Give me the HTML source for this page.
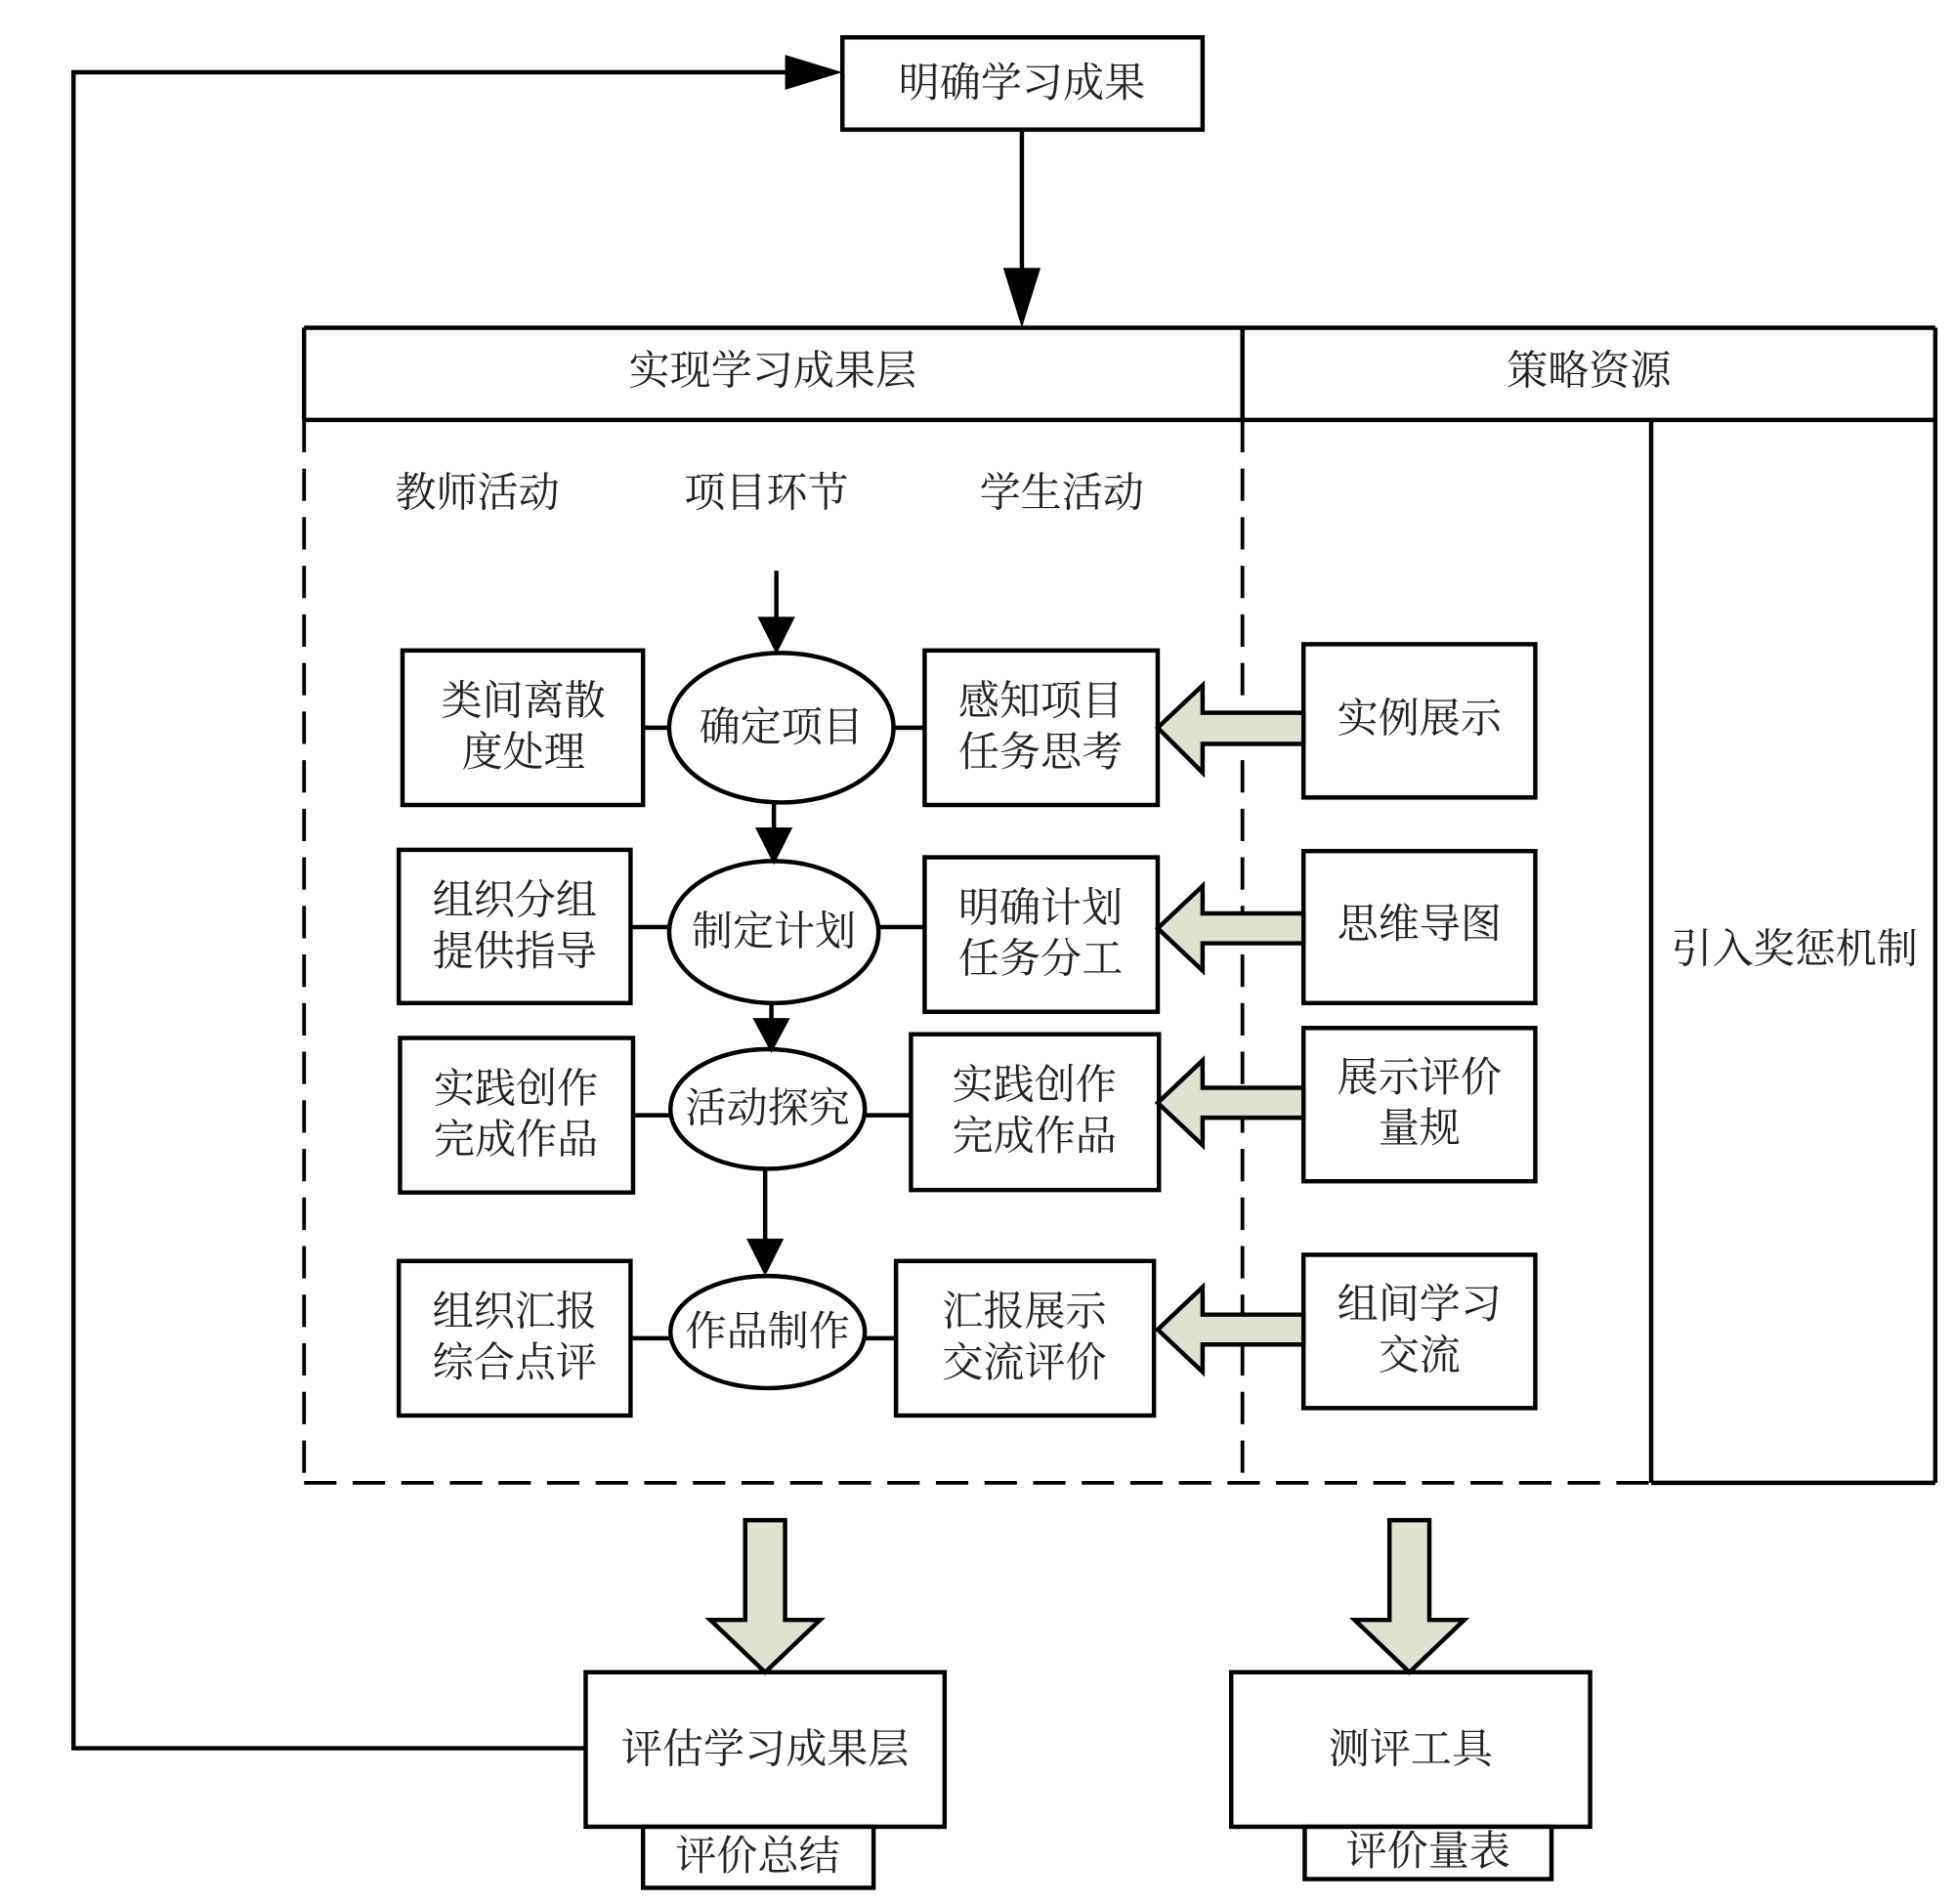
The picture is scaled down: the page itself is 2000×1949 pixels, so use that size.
<!DOCTYPE html>
<html><head><meta charset="utf-8"><style>
html,body{margin:0;padding:0;background:#fff;}
svg{display:block;}
text{font-family:"Liberation Serif","Noto Serif CJK SC",serif;font-size:33px;fill:#222;text-anchor:middle;dominant-baseline:central;}
</style></head><body>
<svg width="2000" height="1949" viewBox="0 0 1568 1528" preserveAspectRatio="none" xmlns="http://www.w3.org/2000/svg">
<g stroke="#000" stroke-width="3.5" fill="none">
<rect x="676" y="30" width="289" height="74" fill="#fff"/>
<polyline points="470,1403 59,1403 59,58 632,58"/>
<line x1="820" y1="104" x2="820" y2="218"/>
<line x1="244" y1="263" x2="1553" y2="263"/>
<line x1="244" y1="263" x2="244" y2="337"/>
<line x1="244" y1="337" x2="1553" y2="337"/>
<line x1="997" y1="263" x2="997" y2="337"/>
<line x1="1553" y1="263" x2="1553" y2="1190"/>
<polyline points="1325,1190 1325,337"/>
<line x1="1325" y1="1190" x2="1553" y2="1190"/>
<g stroke-dasharray="26,13" stroke-width="3">
<line x1="244" y1="337" x2="244" y2="1190"/>
<line x1="244" y1="1190" x2="1325" y2="1190"/>
<line x1="997" y1="337" x2="997" y2="1190"/>
</g>
<line x1="623" y1="458" x2="623" y2="498"/>
<line x1="621" y1="644" x2="621" y2="667"/>
<line x1="619" y1="805" x2="619" y2="820"/>
<line x1="614" y1="938" x2="614" y2="998"/>
<line x1="516" y1="584" x2="742" y2="584"/>
<line x1="506" y1="744" x2="742" y2="744"/>
<line x1="508" y1="895" x2="731" y2="895"/>
<line x1="506" y1="1074" x2="719" y2="1074"/>
<g fill="#fff">
<rect x="323" y="522" width="193" height="124"/>
<rect x="742" y="522" width="187" height="124"/>
<rect x="1046" y="517" width="186" height="123"/>
<ellipse cx="627" cy="584" rx="90" ry="60"/>
<rect x="320" y="682" width="186" height="123"/>
<rect x="742" y="688" width="187" height="124"/>
<rect x="1046" y="683" width="186" height="122"/>
<ellipse cx="621" cy="748" rx="84" ry="57"/>
<rect x="321" y="833" width="187" height="124"/>
<rect x="731" y="830" width="199" height="125"/>
<rect x="1046" y="825" width="186" height="123"/>
<ellipse cx="616" cy="890" rx="78" ry="48"/>
<rect x="320" y="1012" width="186" height="124"/>
<rect x="719" y="1012" width="207" height="124"/>
<rect x="1046" y="1007" width="186" height="123"/>
<ellipse cx="616" cy="1069" rx="78" ry="45"/>
<rect x="470" y="1342" width="288" height="124"/>
<rect x="516" y="1466" width="185" height="49"/>
<rect x="988" y="1342" width="288" height="124"/>
<rect x="1047" y="1466" width="198" height="42"/>
</g>
</g>
<g fill="#000">
<polygon points="630,44 676,58 630,72"/>
<polygon points="805,215 835,215 820,263"/>
<polygon points="608,495 638,495 623,525"/>
<polygon points="606,664 636,664 621,694"/>
<polygon points="604,817 634,817 619,845"/>
<polygon points="599,994 629,994 614,1024"/>
</g>
<g fill="#dfe2d0" stroke="#000" stroke-width="3.5">
<polygon points="1046,572 965,572 965,550 929,584 965,620 965,597 1046,597"/>
<polygon points="1046,733 965,733 965,711 929,745 965,779 965,757 1046,757"/>
<polygon points="1046,873 965,873 965,851 929,885 965,919 965,897 1046,897"/>
<polygon points="1046,1055 965,1055 965,1033 929,1067 965,1101 965,1079 1046,1079"/>
<polygon points="598,1220 630,1220 630,1300 658,1300 614,1342 570,1300 598,1300"/>
<polygon points="1115,1220 1147,1220 1147,1300 1175,1300 1131,1342 1087,1300 1115,1300"/>
</g>
<text x="820" y="67">明确学习成果</text>
<text x="620" y="298">实现学习成果层</text>
<text x="1275" y="298">策略资源</text>
<text x="383" y="396">教师活动</text>
<text x="615" y="396">项目环节</text>
<text x="852" y="396">学生活动</text>
<text x="1440" y="762">引入奖惩机制</text>
<text x="420" y="563">类间离散</text><text x="420" y="604">度处理</text>
<text x="627" y="584">确定项目</text>
<text x="835" y="563">感知项目</text><text x="835" y="604">任务思考</text>
<text x="1139" y="577">实例展示</text>
<text x="413" y="723">组织分组</text><text x="413" y="764">提供指导</text>
<text x="621" y="748">制定计划</text>
<text x="835" y="729">明确计划</text><text x="835" y="770">任务分工</text>
<text x="1139" y="742">思维导图</text>
<text x="414" y="874">实践创作</text><text x="414" y="915">完成作品</text>
<text x="616" y="890">活动探究</text>
<text x="830" y="871">实践创作</text><text x="830" y="912">完成作品</text>
<text x="1139" y="865">展示评价</text><text x="1139" y="906">量规</text>
<text x="413" y="1053">组织汇报</text><text x="413" y="1094">综合点评</text>
<text x="616" y="1069">作品制作</text>
<text x="822" y="1053">汇报展示</text><text x="822" y="1094">交流评价</text>
<text x="1139" y="1047">组间学习</text><text x="1139" y="1088">交流</text>
<text x="614" y="1404">评估学习成果层</text>
<text x="608" y="1490">评价总结</text>
<text x="1132" y="1404">测评工具</text>
<text x="1146" y="1486">评价量表</text>
</svg>
</body></html>
